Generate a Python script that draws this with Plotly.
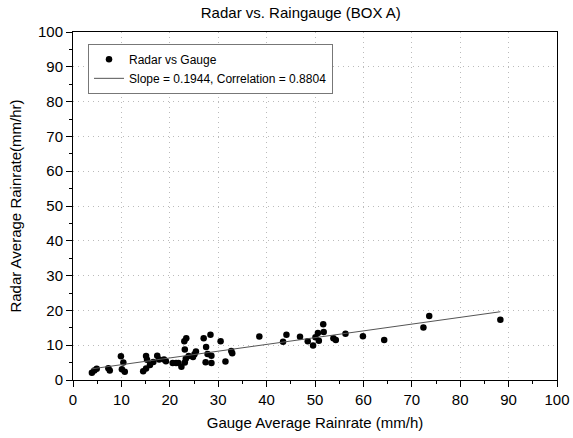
import plotly.graph_objects as go

gauge = [3.9, 4.4, 4.9, 7.3, 7.6, 9.9, 10.4, 10.1, 10.7, 14.5, 15.1, 15.1, 15.3, 15.9,
         16.6, 17.4, 17.8, 18.8, 19.2, 20.6, 21.3, 21.8, 22.4, 23.1, 23.3, 23.1, 23.0,
         23.4, 23.9, 24.8, 25.1, 25.4, 27.0, 27.5, 27.4, 27.8, 28.4, 28.6, 28.6, 30.5,
         31.5, 32.7, 32.9, 38.5, 43.4, 44.1, 46.9, 48.5, 49.6, 50.1, 50.6, 50.8, 51.7,
         51.8, 53.8, 54.3, 56.3, 59.9, 64.3, 72.4, 73.6, 88.3]
radar = [2.1, 2.7, 3.2, 3.4, 2.7, 6.8, 5.0, 3.1, 2.4, 2.5, 3.3, 6.9, 5.8, 4.3,
         5.2, 7.0, 5.9, 5.9, 5.4, 4.9, 4.9, 4.9, 3.8, 5.0, 6.1, 8.8, 11.1,
         12.0, 6.9, 6.6, 7.4, 8.2, 12.0, 9.5, 5.1, 7.5, 13.0, 7.0, 4.9, 11.1,
         5.3, 8.3, 7.7, 12.5, 11.0, 13.0, 12.4, 11.1, 9.9, 12.3, 13.5, 11.3, 16.0,
         13.8, 12.0, 11.5, 13.3, 12.6, 11.5, 15.1, 18.4, 17.3]
slope = 0.1944
intercept = 2.45
fit_x = [min(gauge), max(gauge)]
fit_y = [slope * v + intercept for v in fit_x]

x_ticks = [0, 10, 20, 30, 40, 50, 60, 70, 80, 90, 100]
y_ticks = [0, 10, 20, 30, 40, 50, 60, 70, 80, 90, 100]

fig = go.Figure()
fig.add_trace(go.Scatter(x=gauge, y=radar, mode="markers", name="Radar vs Gauge",
                         marker=dict(color="black", size=6.5)))
fig.add_trace(go.Scatter(x=fit_x, y=fit_y, mode="lines",
                         name="Slope = 0.1944, Correlation = 0.8804",
                         line=dict(color="#555555", width=1)))

axis_common = dict(
    showline=True, linecolor="black", linewidth=1, mirror=True,
    ticks="outside", ticklen=6, tickcolor="black",
    showgrid=True, gridcolor="#bbbbbb", griddash="1px,4px", gridwidth=1,
    zeroline=False, automargin=False,
    tickfont=dict(size=15, color="black"),
    minor=dict(ticks="outside", ticklen=3, dtick=5, tickcolor="black", showgrid=False),
)

fig.update_layout(
    width=573, height=438,
    margin=dict(l=73, r=16, t=32, b=58),
    paper_bgcolor="white", plot_bgcolor="white",
    font=dict(family="Liberation Sans, Arial, sans-serif", color="black"),
    title=dict(text="Radar vs. Raingauge (BOX A)", x=0.525, xanchor="center",
               y=0.97, yanchor="middle", font=dict(size=15)),
    xaxis=dict(range=[0, 100], tickvals=x_ticks,
               title=dict(text="Gauge Average Rainrate (mm/h)", font=dict(size=15), standoff=10),
               **axis_common),
    yaxis=dict(range=[0, 100], tickvals=y_ticks,
               title=dict(text="Radar Average Rainrate(mm/hr)", font=dict(size=15), standoff=12),
               **axis_common),
    legend=dict(x=0.031, y=0.966, xanchor="left", yanchor="top",
                bordercolor="#777777", borderwidth=1, bgcolor="white",
                font=dict(size=12), tracegroupgap=0, itemwidth=30),
    showlegend=True,
)

fig.write_html("out.html")
